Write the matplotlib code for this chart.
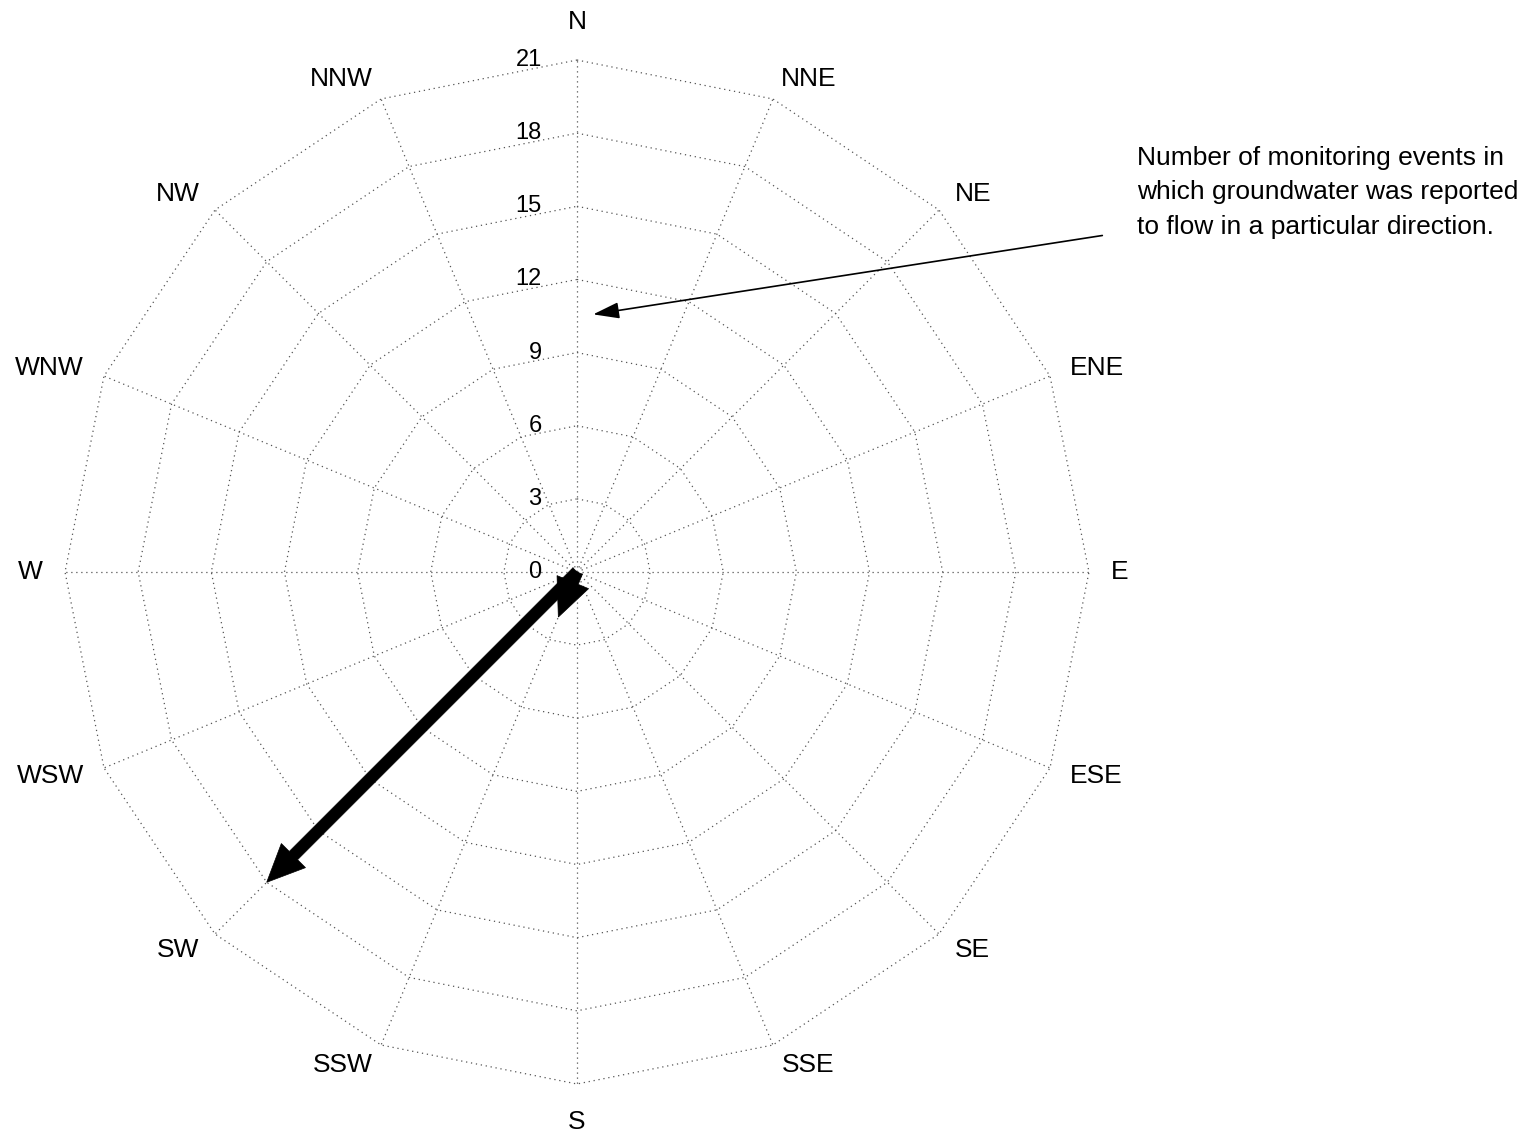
import numpy as np
import matplotlib
matplotlib.use("Agg")
import matplotlib.pyplot as plt

plt.rcParams['font.family'] = ['Liberation Sans', 'DejaVu Sans']

directions = ['N', 'NNE', 'NE', 'ENE', 'E', 'ESE', 'SE', 'SSE',
              'S', 'SSW', 'SW', 'WSW', 'W', 'WNW', 'NW', 'NNW']
counts = [0, 0, 0, 0, 0, 0, 0, 0, 0, 2, 18, 0, 0, 0, 0, 0]
rticks = [0, 3, 6, 9, 12, 15, 18, 21]
note = ("Number of monitoring events in\n"
        "which groundwater was reported\n"
        "to flow in a particular direction.")

W, H, DPI = 1540, 1136, 100
cx, cy = 577, 572
scale = 24.38  # px per unit

fig = plt.figure(figsize=(W / DPI, H / DPI), dpi=DPI)
ax = fig.add_axes([0, 0, 1, 1])
ax.set_xlim(-cx / scale, (W - cx) / scale)
ax.set_ylim(-(H - cy) / scale, cy / scale)
ax.axis('off')

n = len(directions)
ang = np.deg2rad(np.arange(n) * 360.0 / n)
sx, sy = np.sin(ang), np.cos(ang)
rmax = rticks[-1]

grid_kw = dict(color='#555555', lw=0.9, ls=(0, (1, 3)))
# rings (polygons)
for r in rticks[1:]:
    xs = np.append(r * sx, r * sx[0])
    ys = np.append(r * sy, r * sy[0])
    ax.plot(xs, ys, **grid_kw)
# spokes
for i in range(n):
    ax.plot([0, rmax * sx[i]], [0, rmax * sy[i]], **grid_kw)

# radial tick labels
for r in rticks:
    ax.text(-1.45, r, str(r), ha='right', va='center', fontsize=17)

# direction labels (placed just outside the outer ring vertex)
off = 22 / scale
for i, d in enumerate(directions):
    vx, vy = rmax * sx[i], rmax * sy[i]
    if abs(sx[i]) < 1e-6:
        ha = 'center'
        o = 38 / scale
    else:
        ha = 'left' if sx[i] > 0 else 'right'
        o = off
    ax.text(vx + o * sx[i], vy + o * sy[i], d, ha=ha, va='center', fontsize=19)

# data arrows
for i, c in enumerate(counts):
    if c > 0:
        ax.arrow(0, 0, c * sx[i], c * sy[i], width=0.48, head_width=1.4,
                 head_length=1.55, length_includes_head=True,
                 fc='black', ec='black', lw=0.5, zorder=5)

# annotation
ax.annotate('', xy=(0.55, 10.55), xytext=(21.66, 13.82),
            arrowprops=dict(arrowstyle='-|>,head_length=0.8,head_width=0.25',
                            color='black', lw=1.2, mutation_scale=20))
ax.text((1137 - cx) / scale, (cy - 146) / scale, note, ha='left', va='top',
        fontsize=19, linespacing=1.55)

fig.savefig('out.png', dpi=DPI)
